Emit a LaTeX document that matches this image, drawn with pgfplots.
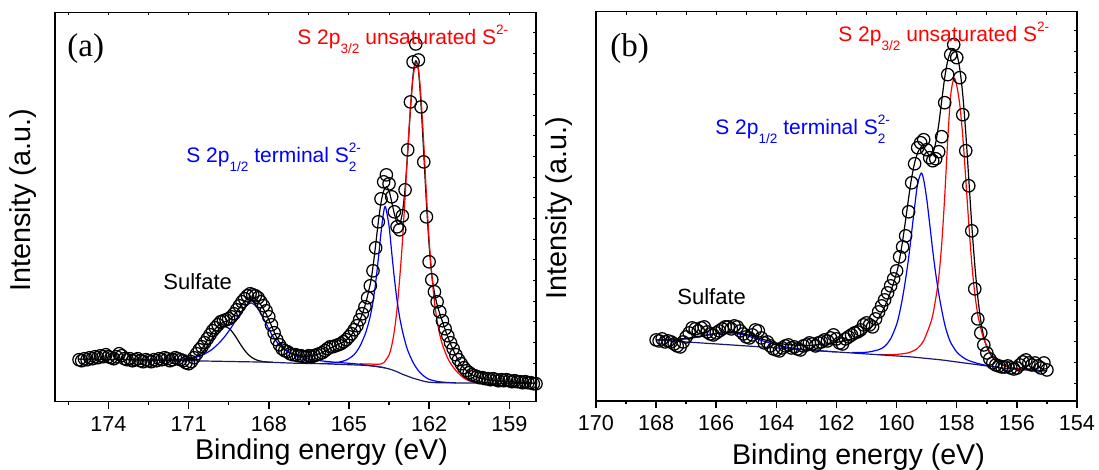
\documentclass[border=0pt]{standalone}
\usepackage{fontspec}
\setmainfont{Liberation Sans}
\newfontfamily\seriffont{Liberation Serif}
\usepackage{pgfplots}
\usepackage{pgfplotstable}
\pgfplotsset{compat=1.18}
\definecolor{bgnavy}{RGB}{25,25,110}
\newcommand{\subx}[1]{\raisebox{-4.3pt}{\fontsize{6.8}{7}\selectfont #1}}
\newcommand{\supx}[1]{\raisebox{5.3pt}{\fontsize{6.8}{7}\selectfont #1}}

\pgfplotstableread{
E h
175.1 42
175.0 41
174.9 43
174.8 42
174.7 44
174.6 43
174.5 45
174.4 44
174.3 46
174.2 45
174.1 47
174.0 45
173.9 44
173.8 43
173.7 45
173.6 48
173.5 46
173.4 43
173.3 42
173.2 43
173.1 41
173.0 42
172.9 43
172.8 41
172.7 40
172.6 42
172.5 41
172.4 40
172.3 42
172.2 41
172.1 43
172.0 42
171.9 44
171.8 43
171.7 41
171.6 42
171.5 44
171.4 43
171.3 42
171.2 41
171.1 39
171.0 38
170.9 40
170.8 44
170.7 48
170.6 52
170.5 55
170.4 59
170.3 63
170.2 67
170.1 71
170.0 74
169.9 77
169.8 80
169.7 81
169.6 82
169.5 83
169.4 85
169.3 88
169.2 92
169.1 96
169.0 100
168.9 103
168.8 106
168.7 108
168.6 107
168.5 106
168.4 104
168.3 100
168.2 96
168.1 91
168.0 85
167.9 77
167.8 69
167.7 62
167.6 57
167.5 53
167.4 51
167.3 50
167.2 48
167.1 47
167.0 47
166.9 46
166.8 46
166.7 45
166.6 45
166.5 46
166.4 45
166.3 46
166.2 47
166.1 48
166.0 49
165.9 51
165.8 53
165.7 55
165.6 55
165.5 56
165.4 57
165.3 58
165.2 60
165.1 62
165.0 65
164.9 68
164.8 72
164.7 76
164.6 82
164.5 88
164.4 95
164.3 104
164.2 116
164.1 131
164.0 154
163.9 180
163.8 203
163.7 220
163.6 227
163.5 218
163.4 205
163.3 190
163.2 175
163.1 172
163.0 186
162.9 212
162.8 252
162.7 300
162.6 340
162.5 358
162.4 342
162.3 295
162.2 240
162.1 185
162.0 140
161.9 122
161.8 110
161.7 100
161.6 90
161.5 81
161.4 73
161.3 66
161.2 59
161.1 53
161.0 47
160.9 42
160.8 38
160.7 34
160.6 31
160.5 29
160.4 27
160.3 26
160.2 25
160.1 24
160.0 24
159.9 23
159.8 23
159.7 22
159.6 23
159.5 22
159.4 21
159.3 22
159.2 21
159.1 22
159.0 21
158.9 20
158.8 21
158.7 20
158.6 20
158.5 19
158.4 20
158.3 19
158.2 19
158.1 18
158.0 18
}\dataA

\pgfplotstableread{
E h
175.1 42.5
174.0 42.3
173.0 42
172.0 41.5
171.0 41.5
170.8 43
170.6 49
170.4 57
170.2 66
170.0 73
169.8 78
169.6 80.5
169.4 83.5
169.2 90
169.0 97.5
168.8 103
168.65 104.5
168.5 103
168.3 97
168.1 88
167.9 76
167.7 64
167.5 55.5
167.3 50.5
167.0 47
166.7 45.5
166.4 46
166.1 48
165.8 52
165.5 56
165.2 60
165.0 64
164.8 71
164.6 81
164.4 96
164.2 118
164.1 135
164.0 157
163.9 180
163.8 199
163.7 211
163.6 215
163.5 211
163.4 200
163.3 188
163.2 179
163.1 178
163.0 189
162.9 213
162.8 250
162.7 292
162.6 327
162.5 341
162.4 332
162.3 296
162.2 248
162.1 199
162.0 157
161.9 127
161.8 109
161.7 97
161.6 88
161.5 80
161.4 72
161.3 65
161.2 58
161.1 52
161.0 46
160.9 41
160.8 37
160.6 31
160.4 27
160.2 24.5
160.0 23
159.5 21
159.0 20
158.5 19
158.0 18.5
}\envA

\pgfplotstableread{
E h
175.1 42.5
174 42.3
173 42
172 41.5
171 41
170 40.5
169 40
168 39.5
167 38.5
166 38
165 37
164.5 36.5
164 35.5
163.8 34.5
163.6 33.5
163.4 32
163.2 30
163.0 27.5
162.8 25.5
162.6 23.5
162.4 22
162.2 20.5
162.0 19.5
161.7 19
161 18.8
158 18.3
}\bgA

\pgfplotstableread{
E h
164.6 37.9
164.2 37.7
163.9 37.4
163.7 39
163.5 46.8
163.4 56
163.3 71
163.2 93
163.1 123.7
163.0 159.5
162.9 204.5
162.8 251.5
162.7 293.5
162.6 324.5
162.5 338.8
162.4 333
162.3 303
162.2 258.5
162.1 207
162.0 162
161.9 127
161.8 100
161.7 81
161.6 67
161.5 57
161.3 43.3
161.1 34.6
160.9 28.3
160.7 23.7
160.5 20.9
160.2 18.9
159.8 18.6
}\redA

\pgfplotstableread{
E h
166.0 38.3
165.5 39
165.1 41.7
164.8 47.3
164.6 55
164.4 67
164.3 75.4
164.2 85.8
164.1 100
164.0 119.2
163.9 143
163.8 169
163.7 190
163.63 194.7
163.5 176
163.4 149.5
163.3 123.6
163.2 101.6
163.1 84.2
163.0 71
162.9 60.3
162.8 51.3
162.6 39.3
162.4 31
162.2 25.7
162.0 22.4
161.7 20.3
161.4 19.4
161.0 18.8
}\blueA

\pgfplotstableread{
E h
171.45 41.3
171.25 41.3
171.05 41.7
170.85 42.9
170.65 45.5
170.45 50.4
170.25 57.6
170.05 65.9
169.85 72.7
169.65 75.3
169.45 72.5
169.25 65.5
169.05 57
168.85 49.6
168.65 44.5
168.45 41.7
168.25 40.3
168.05 39.7
167.85 39.4
}\sulkA

\pgfplotstableread{
E h
171.65 42
171.15 42.9
170.65 45.2
170.4 47.8
170.15 51.8
169.9 57.6
169.65 65.1
169.4 74.4
169.15 84.9
168.9 94.3
168.65 98.8
168.4 92.8
168.15 80.9
167.9 67.7
167.65 58.1
167.4 52
167.15 47.7
166.9 45.1
166.65 43.3
166.15 41.3
165.65 39.8
164.65 37.6
163.65 34
}\sulbA

\pgfplotstableread{
E h
168.0 61
167.9 60
167.8 62
167.7 59
167.6 60
167.5 59
167.4 57
167.3 55
167.2 54
167.1 59
167.0 64
166.9 68
166.8 73
166.7 72
166.6 70
166.5 73
166.4 74
166.3 69
166.2 67
166.1 66
166.0 68
165.9 70
165.8 72
165.7 74
165.6 74
165.5 72
165.4 75
165.3 74
165.2 70
165.1 67
165.0 64
164.9 63
164.8 66
164.7 71
164.6 70
164.5 63
164.4 58
164.3 59
164.2 55
164.1 52
164.0 51
163.9 50
163.8 53
163.7 55
163.6 56
163.5 53
163.4 54
163.3 52
163.2 51
163.1 55
163.0 56
162.9 58
162.8 57
162.7 55
162.6 58
162.5 59
162.4 61
162.3 60
162.2 63
162.1 66
162.0 62
161.9 58
161.8 57
161.7 62
161.6 64
161.5 66
161.4 68
161.3 69
161.2 71
161.1 76
161.0 78
160.9 76
160.8 74
160.7 82
160.6 89
160.5 95
160.4 101
160.3 108
160.2 115
160.1 122
160.0 130
159.9 144
159.8 154
159.7 165
159.6 189
159.5 218
159.4 237
159.3 253
159.2 258
159.1 261
159.0 251
158.9 243
158.8 240
158.7 242
158.6 249
158.5 264
158.4 298
158.3 326
158.2 346
158.1 356
158.0 343
157.9 323
157.8 286
157.7 250
157.6 215
157.5 170
157.4 112
157.3 82
157.2 68
157.1 56
157.0 48
156.9 42
156.8 38
156.7 36
156.6 35
156.5 34
156.4 34
156.3 35
156.2 33
156.1 32
156.0 33
155.9 36
155.8 39
155.7 41
155.6 38
155.5 36
155.4 38
155.3 35
155.2 33
155.1 38
155.0 31
}\dataB

\pgfplotstableread{
E h
168.0 61
167.5 61.5
167.0 62.5
166.5 65
166.0 67.5
165.5 68.5
165.0 66.5
164.5 62
164.0 58
163.5 56
163.0 55.5
162.5 56.5
162.0 58.5
161.5 62
161.0 69
160.8 75
160.6 83
160.4 94
160.2 109
160.0 128
159.9 142
159.8 160
159.7 181
159.6 203
159.5 223
159.4 238
159.3 248
159.2 253
159.1 253
159.0 249
158.9 245
158.8 247
158.7 258
158.6 276
158.5 300
158.4 323
158.3 340
158.2 349
158.1 352
158.0 347
157.9 332
157.8 306
157.7 268
157.6 222
157.5 176
157.4 136
157.3 104
157.2 80
157.1 64
157.0 54
156.8 43
156.6 38
156.4 35
156.2 33.3
156.0 32.3
155.5 31
155.0 30.2
}\envB

\pgfplotstableread{
E h
168 61
167 59
166 57
165 55
164 53
163 51
162 49
161 47
160 45
159.5 44
159 42.5
158.5 41
158 39
157.5 37
157 35
156.5 33
156 31.7
155.5 30.7
155 30
}\bgB

\pgfplotstableread{
E h
160.6 46.5
160.1 46.3
159.6 48.2
159.3 52.7
159.1 60.3
158.9 75.3
158.8 85.5
158.7 102.1
158.6 123
158.5 156.8
158.4 204.4
158.3 260.7
158.2 305.8
158.09 322.4
158.0 315
157.9 296.1
157.8 264.6
157.7 221.8
157.6 177.4
157.5 137.5
157.4 107.4
157.3 86.2
157.2 72.6
157.1 61.7
156.9 49.3
156.7 42
156.4 35.6
156.1 33.1
155.6 30.8
155.0 30
}\redB

\pgfplotstableread{
E h
161.5 48.4
161.0 48.7
160.6 51.2
160.4 54.5
160.2 62
160.0 76.5
159.9 88.3
159.8 103.6
159.7 122
159.6 143
159.5 168.6
159.4 194.2
159.3 217
159.18 227.7
159.1 221
159.0 202.2
158.9 176.9
158.8 150.6
158.7 127.3
158.6 107.6
158.5 91
158.4 76.6
158.3 66.1
158.2 58.3
158.0 49
157.8 43.7
157.6 40.4
157.3 37.5
157.0 35.5
156.5 33
}\blueB

\pgfplotstableread{
E h
168.0 61.2
167.5 61
167.0 62
166.5 64.5
166.0 67.3
165.5 68
165.0 65.3
164.5 60.5
164.0 56
163.5 53
163.0 51.2
162.5 50
162.0 49
}\sulB

\pgfplotsset{
  base/.style={scale only axis, width=240.5pt, height=194.7pt, anchor=south west,
    x dir=reverse, ymin=0,
    axis line style={line width=0.75pt},
    tick style={black, line width=0.75pt},
    tick align=outside, xtick pos=left, ytick=\empty,
    major tick length=3.5pt, minor tick length=1.75pt,
    tick label style={font=\fontsize{10.8}{12}\selectfont},
    xticklabel style={inner sep=0pt, yshift=-3.6pt},
    /pgf/number format/assume math mode=true,
    /pgf/number format/set thousands separator={}},
  over/.style={scale only axis, width=240.5pt, height=194.7pt, anchor=south west,
    x dir=reverse, ymin=0, axis line style={line width=0.75pt},
    tick style={black, line width=0.45pt},
    tick align=inside, xtick pos=right, ytick pos=right,
    major tick length=1.5pt, xticklabels={}, yticklabels={}},
  dat/.style={only marks, mark=o, mark size=3.1pt, mark options={line width=0.62pt, black}},
  fit/.style={no marks, smooth, line width=0.6pt},
}

\begin{document}
\begin{tikzpicture}
% ---------- panel (a) ----------
\begin{axis}[base, at={(27.5pt,34.15pt)}, xmin=158, xmax=176, ymax=389.7,
  xtick={159,162,...,174}, minor xtick={160.5,163.5,...,175.5}]
\addplot[dat] table {\dataA};
\addplot[fit, black] table {\envA};
\addplot[fit, black] table {\sulkA};
\addplot[fit, blue] table {\sulbA};
\addplot[fit, red] table {\redA};
\addplot[fit, blue] table {\blueA};
\addplot[fit, bgnavy] table {\bgA};
\end{axis}
\begin{axis}[over, at={(27.5pt,34.15pt)}, xmin=158, xmax=176, ymax=389.7,
  xtick={159,160.5,...,175.5}, ytick={17.8,38.5,...,389}]
\end{axis}
% ---------- panel (b) ----------
\begin{axis}[base, at={(298pt,34.5pt)}, xmin=154, xmax=170, ymax=389,
  xtick={154,156,...,170}, minor xtick={155,157,...,169}]
\addplot[dat] table {\dataB};
\addplot[fit, black] table {\envB};
\addplot[fit, red] table {\redB};
\addplot[fit, blue] table {\blueB};
\addplot[fit, blue] table {\sulB};
\addplot[fit, bgnavy] table {\bgB};
\end{axis}
\begin{axis}[over, at={(298pt,34.5pt)}, xmin=154, xmax=170, ymax=389,
  xtick={154,155,...,170}, ytick={17.8,38.5,...,389}]
\end{axis}
% ---------- texts ----------
\node[anchor=base west, inner sep=0pt, font=\seriffont\fontsize{16.5}{18}\selectfont] at (33.5pt,206.5pt) {(a)};
\node[anchor=base west, inner sep=0pt, font=\seriffont\fontsize{16.5}{18}\selectfont] at (305pt,206.5pt) {(b)};
\node[anchor=base west, inner sep=0pt, red, font=\fontsize{10.5}{12}\selectfont] at (148.5pt,212.5pt) {S 2p\subx{3/2} unsaturated S\supx{2-}};
\node[anchor=base west, inner sep=0pt, blue, font=\fontsize{10.5}{12}\selectfont] at (93pt,153.5pt) {S 2p\subx{1/2} terminal S\rlap{\subx{2}}\supx{2-}};
\node[anchor=base west, inner sep=0pt, font=\fontsize{11}{12}\selectfont] at (81.5pt,90pt) {Sulfate};
\node[anchor=base west, inner sep=0pt, red, font=\fontsize{10.5}{12}\selectfont] at (419pt,214pt) {S 2p\subx{3/2} unsaturated S\supx{2-}};
\node[anchor=base west, inner sep=0pt, blue, font=\fontsize{10.5}{12}\selectfont] at (357.5pt,167.5pt) {S 2p\subx{1/2} terminal S\rlap{\subx{2}}\supx{2-}};
\node[anchor=base west, inner sep=0pt, font=\fontsize{11}{12}\selectfont] at (338.5pt,82.5pt) {Sulfate};
\node[anchor=base, inner sep=0pt, font=\fontsize{14.3}{16}\selectfont] at (160.75pt,5.3pt) {Binding energy (eV)};
\node[anchor=base, inner sep=0pt, font=\fontsize{14.3}{16}\selectfont] at (429.25pt,2.5pt) {Binding energy (eV)};
\node[rotate=90, inner sep=0pt, font=\fontsize{14.4}{16}\selectfont] at (11.75pt,134.75pt) {Intensity (a.u.)};
\node[rotate=90, inner sep=0pt, font=\fontsize{14.4}{16}\selectfont] at (279.75pt,130.75pt) {Intensity (a.u.)};
\pgfresetboundingbox
\path[use as bounding box] (0,0) rectangle (549.5pt,235pt);
\end{tikzpicture}
\end{document}
